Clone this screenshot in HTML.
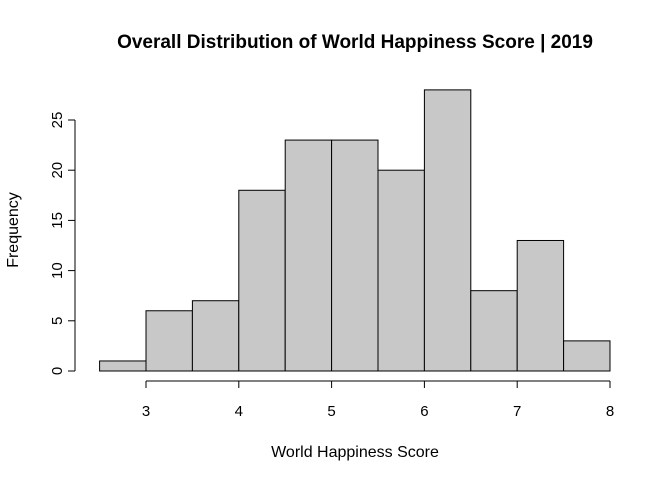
<!DOCTYPE html>
<html><head><meta charset="utf-8"><style>
body{margin:0;background:#fff}
svg{display:block;font-family:"Liberation Sans",Arial,sans-serif}
</style></head><body>
<svg id="chart" width="672" height="480">
<text x="355" y="48" text-anchor="middle" font-size="19" font-weight="bold">Overall Distribution of World Happiness Score | 2019</text>
<text x="355" y="457" text-anchor="middle" font-size="16">World Happiness Score</text>
<text x="18" y="230" text-anchor="middle" font-size="16" transform="rotate(-90 18 230)">Frequency</text>
<g id="bars"></g><g id="xaxis"></g><g id="yaxis"></g>
</svg>
<script>
const binStarts=[2.5,3,3.5,4,4.5,5,5.5,6,6.5,7,7.5];
const counts=[1,6,7,18,23,23,20,28,8,13,3];
const xTicks=[3,4,5,6,7,8];
const yTicks=[0,5,10,15,20,25];
const binWidth=0.5;
const NS="http://www.w3.org/2000/svg";
function sx(v){return 146+(v-3)*92.8;}
function sy(v){return 371-v*10.04;}
function mk(tag,attrs,parent){const e=document.createElementNS(NS,tag);for(const k in attrs)e.setAttribute(k,attrs[k]);parent.appendChild(e);return e;}
const bars=document.getElementById('bars');
binStarts.forEach((b,i)=>{
 const r=mk('rect',{x:sx(b),y:sy(counts[i]),width:sx(b+binWidth)-sx(b),height:sy(0)-sy(counts[i]),fill:'#c8c8c8',stroke:'#000','stroke-width':1},bars);
 
 
});
const xa=document.getElementById('xaxis');


mk('line',{x1:sx(xTicks[0]),x2:sx(xTicks[xTicks.length-1]),y1:381,y2:381,stroke:'#000'},xa);
xTicks.forEach(t=>{
 mk('line',{x1:sx(t),x2:sx(t),y1:381,y2:388,stroke:'#000'},xa);
 const tx=mk('text',{x:sx(t),y:416,'text-anchor':'middle','font-size':15},xa);
 tx.textContent=t;
 
 
});
const ya=document.getElementById('yaxis');


mk('line',{x1:75,x2:75,y1:sy(yTicks[0]),y2:sy(yTicks[yTicks.length-1]),stroke:'#000'},ya);
yTicks.forEach(t=>{
 mk('line',{x1:68,x2:75,y1:sy(t),y2:sy(t),stroke:'#000'},ya);
 const tx=mk('text',{x:62,y:sy(t),'text-anchor':'middle','font-size':15,transform:'rotate(-90 62 '+sy(t)+')'},ya);
 tx.textContent=t;
 
 
});
</script>
</body></html>
